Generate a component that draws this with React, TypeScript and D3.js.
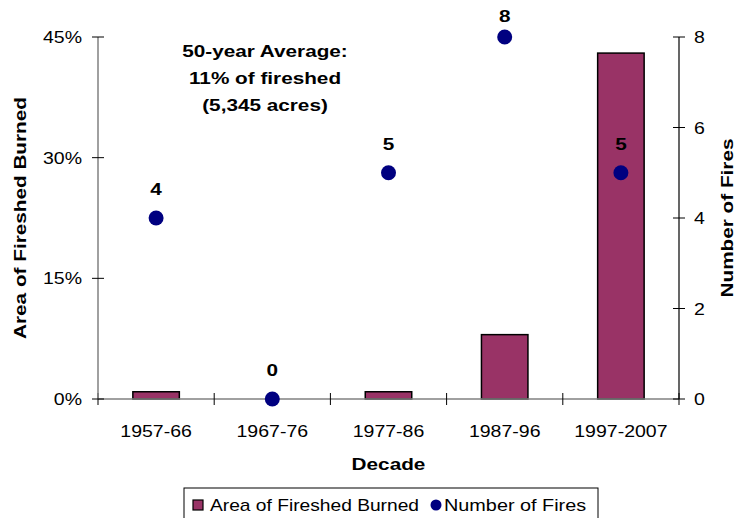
import React from "react";
import * as d3 from "d3";

const decades = ["1957-66", "1967-76", "1977-86", "1987-96", "1997-2007"];
const areaBurned = [0.9, 0, 0.9, 8, 43]; // percent of fireshed
const numFires = [4, 0, 5, 8, 5];
const leftTicks = [0, 15, 30, 45];
const rightTicks = [0, 2, 4, 6, 8];
const annotationLines = ["50-year Average:", "11% of fireshed", "(5,345 acres)"];

const W = 737;
const H = 518;
const M = { left: 98, right: 679, top: 37, bottom: 399 };
const FONT = "'Liberation Sans', Arial, sans-serif";
const SX = 1.22;

function T(props: {
  x: number;
  y: number;
  rot?: number;
  anchor?: string;
  size?: number;
  bold?: boolean;
  sx?: number;
  children: React.ReactNode;
}) {
  const { x, y, rot = 0, anchor = "start", size = 16, bold = false, sx = SX, children } = props;
  return (
    <text
      transform={`translate(${x},${y}) rotate(${rot}) scale(${sx},1)`}
      textAnchor={anchor}
      fontSize={size}
      fontWeight={bold ? "bold" : "normal"}
      fill="#000"
    >
      {children}
    </text>
  );
}

export default function App() {
  const x = d3.scaleBand<string>().domain(decades).range([M.left, M.right]).paddingInner(0).paddingOuter(0);
  const yL = d3.scaleLinear().domain([0, 45]).range([M.bottom, M.top]);
  const yR = d3.scaleLinear().domain([0, 8]).range([M.bottom, M.top]);
  const bw = x.bandwidth() * 0.4;
  const boundaries = d3.range(decades.length + 1).map((i) => M.left + i * x.bandwidth());
  const cx = (d: string) => x(d)! + x.bandwidth() / 2;

  return (
    <svg width={W} height={H} style={{ position: "absolute", left: 0, top: 0, background: "#fff" }} fontFamily={FONT}>
      <rect x={0} y={0} width={W} height={H} fill="#fff" />
      {/* bars */}
      {decades.map((d, i) =>
        areaBurned[i] > 0 ? (
          <rect
            key={d}
            x={cx(d) - bw / 2}
            y={yL(areaBurned[i])}
            width={bw}
            height={yL(0) - yL(areaBurned[i])}
            fill="#993366"
            stroke="#000"
            strokeWidth={1.5}
          />
        ) : null
      )}
      {/* x axis */}
      <line x1={M.left} x2={M.right} y1={M.bottom} y2={M.bottom} stroke="#808080" strokeWidth={1.5} />
      {boundaries.map((b, i) => (
        <line key={i} x1={b} x2={b} y1={M.bottom - 6} y2={M.bottom + 6} stroke="#000" strokeWidth={1} />
      ))}
      {decades.map((d) => (
        <T key={d} x={cx(d)} y={437} anchor="middle" size={16}>
          {d}
        </T>
      ))}
      <T x={(M.left + M.right) / 2} y={470} anchor="middle" size={17} bold>
        Decade
      </T>
      {/* left axis */}
      <line x1={M.left} x2={M.left} y1={M.top} y2={M.bottom} stroke="#808080" strokeWidth={1.5} />
      {leftTicks.map((t) => (
        <g key={t}>
          <line x1={M.left - 6} x2={M.left + 6} y1={yL(t)} y2={yL(t)} stroke="#000" />
          <T x={82} y={yL(t) + 6} anchor="end" size={16}>
            {t}%
          </T>
        </g>
      ))}
      <T x={26} y={(M.top + M.bottom) / 2} rot={-90} anchor="middle" size={17} bold>
        Area of Fireshed Burned
      </T>
      {/* right axis */}
      <line x1={M.right} x2={M.right} y1={M.top} y2={M.bottom} stroke="#000" strokeWidth={1.2} />
      {rightTicks.map((t) => (
        <g key={t}>
          <line x1={M.right - 6} x2={M.right + 6} y1={yR(t)} y2={yR(t)} stroke="#000" />
          <T x={694} y={yR(t) + 6} size={16}>
            {t}
          </T>
        </g>
      ))}
      <T x={733} y={(M.top + M.bottom) / 2} rot={-90} anchor="middle" size={17} bold>
        Number of Fires
      </T>
      {/* points */}
      {decades.map((d, i) => (
        <g key={d}>
          <circle cx={cx(d)} cy={yR(numFires[i])} r={7.5} fill="#000080" />
          <T x={cx(d)} y={Math.max(yR(numFires[i]) - 23, 22)} anchor="middle" size={17} bold>
            {numFires[i]}
          </T>
        </g>
      ))}
      {/* annotation */}
      {annotationLines.map((l, i) => (
        <T key={i} x={265} y={57 + i * 27} anchor="middle" size={17} bold>
          {l}
        </T>
      ))}
      {/* legend */}
      <rect x={184} y={488} width={414} height={40} fill="#fff" stroke="#000" strokeWidth={1} />
      <rect x={193} y={500} width={10} height={10} fill="#993366" stroke="#000" strokeWidth={1.2} />
      <T x={210} y={511} size={16} sx={1.2}>
        Area of Fireshed Burned
      </T>
      <circle cx={436} cy={505} r={5.5} fill="#000080" />
      <T x={444} y={511} size={16} sx={1.24}>
        Number of Fires
      </T>
    </svg>
  );
}
